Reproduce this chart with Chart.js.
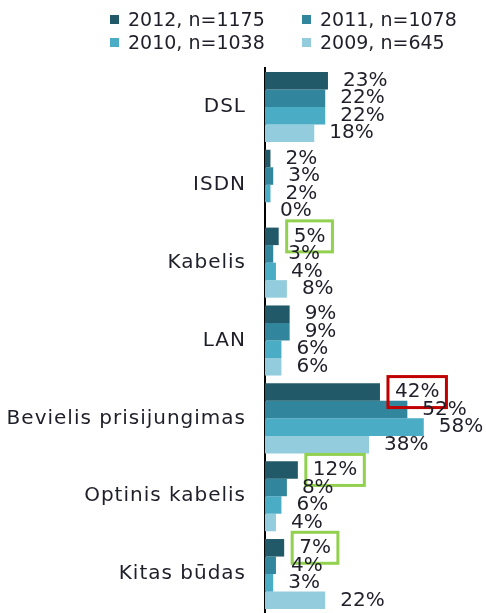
<!DOCTYPE html>
<html>
<head>
<meta charset="utf-8">
<script src="https://cdn.jsdelivr.net/npm/chart.js@4/dist/chart.umd.min.js"></script>
<style>
  body { margin: 0; background: #fff; }
  #wrap { position: relative; width: 486px; height: 613px; }
  #legend { position: absolute; left: 0; top: 0; width: 486px; height: 60px; font: 19px "DejaVu Sans", sans-serif; color: #1f1f2a; }
  .lg-item { position: absolute; display: flex; align-items: center; white-space: nowrap; }
  .lg-box { width: 9px; height: 9px; margin-right: 9px; }
</style>
</head>
<body>
<div id="wrap">
  <canvas id="chart" width="486" height="613"></canvas>
  <div id="legend"></div>
</div>
<script>
const categories = ['DSL', 'ISDN', 'Kabelis', 'LAN', 'Bevielis prisijungimas', 'Optinis kabelis', 'Kitas būdas'];
const seriesLabels = ['2012, n=1175', '2011, n=1078', '2010, n=1038', '2009, n=645'];
const v2012 = [23, 2, 5, 9, 42, 12, 7];
const v2011 = [22, 3, 3, 9, 52, 8, 4];
const v2010 = [22, 2, 4, 6, 58, 6, 3];
const v2009 = [18, 0, 8, 6, 38, 4, 22];
// outline colour around selected 2012 labels
const highlight2012 = [null, null, '#92D050', null, '#C00000', '#92D050', '#92D050'];

const COLORS = ['#215968', '#31859C', '#4BACC6', '#93CDDD'];
const TEXT = '#1f1f2a';

// ── wider category text (axis is drawn before the bars) ──────
const axisSpacing = {
  id: 'axisSpacing',
  beforeDraw(chart) { chart.ctx.letterSpacing = '1px'; },
  beforeDatasetsDraw(chart) { chart.ctx.letterSpacing = '0px'; }
};

// ── value labels + highlight boxes ───────────────────────────
const valueLabels = {
  id: 'valueLabels',
  afterDatasetsDraw(chart) {
    const ctx = chart.ctx;
    ctx.save();
    ctx.font = '20px "DejaVu Sans", sans-serif';
    ctx.fillStyle = TEXT;
    ctx.textAlign = 'left';
    ctx.textBaseline = 'middle';
    chart.data.datasets.forEach((ds, i) => {
      chart.getDatasetMeta(i).data.forEach((bar, j) => {
        const txt = ds.data[j] + '%';
        const x = bar.x + 15;
        const y = bar.y;
        ctx.fillText(txt, x, y);
        if (i === 0 && highlight2012[j]) {
          const w = ctx.measureText(txt).width;
          ctx.strokeStyle = highlight2012[j];
          ctx.lineWidth = 3;
          ctx.strokeRect(x - 7, y - 15.5, w + 14, 31);
        }
      });
    });
    ctx.restore();
  }
};

const chart = new Chart(document.getElementById('chart'), {
  type: 'bar',
  data: {
    labels: categories,
    datasets: [
      { label: seriesLabels[0], data: v2012, backgroundColor: COLORS[0] },
      { label: seriesLabels[1], data: v2011, backgroundColor: COLORS[1] },
      { label: seriesLabels[2], data: v2010, backgroundColor: COLORS[2] },
      { label: seriesLabels[3], data: v2009, backgroundColor: COLORS[3] }
    ]
  },
  options: {
    indexAxis: 'y',
    responsive: false,
    animation: false,
    categoryPercentage: 0.9,
    barPercentage: 1,
    layout: { padding: { top: 68, right: 2, bottom: 0, left: 0 } },
    plugins: { legend: { display: false }, tooltip: { enabled: false } },
    scales: {
      x: { display: false, min: 0, max: 80 },
      y: {
        afterFit: s => { s.width = 265; s.paddingTop = 0; s.paddingBottom = 0; },
        grid: { display: false, drawTicks: true, tickLength: 19 },
        border: { display: true, color: '#000', width: 2 },
        ticks: { color: TEXT, padding: 0, font: { family: 'DejaVu Sans', size: 20 } }
      }
    }
  },
  plugins: [axisSpacing, valueLabels]
});

// ── legend (2 x 2) ───────────────────────────────────────────
const legendPos = [[110, 8], [302, 8], [110, 31], [302, 31]];
const legendEl = document.getElementById('legend');
chart.data.datasets.forEach((ds, i) => {
  const item = document.createElement('div');
  item.className = 'lg-item';
  item.style.left = legendPos[i][0] + 'px';
  item.style.top = legendPos[i][1] + 'px';
  item.innerHTML = `<span class="lg-box" style="background:${ds.backgroundColor}"></span>${ds.label}`;
  legendEl.appendChild(item);
});
</script>
</body>
</html>
